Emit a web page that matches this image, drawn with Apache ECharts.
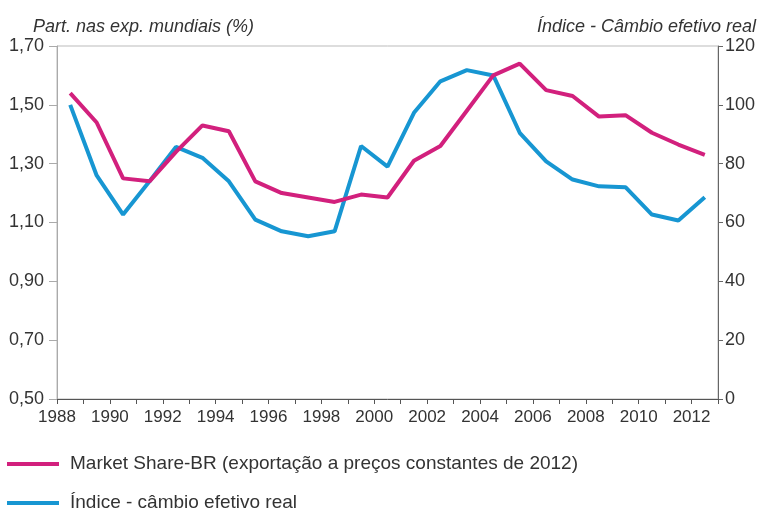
<!DOCTYPE html>
<html>
<head>
<meta charset="utf-8">
<script src="https://cdn.jsdelivr.net/npm/echarts@6/dist/echarts.min.js"></script>
<style>
  html, body { margin: 0; padding: 0; background: #fff; }
  #chart { width: 763px; height: 511px; }
</style>
</head>
<body>
<div id="chart"></div>
<script>
const years = [1988, 1989, 1990, 1991, 1992, 1993, 1994, 1995, 1996, 1997, 1998, 1999,
  2000, 2001, 2002, 2003, 2004, 2005, 2006, 2007, 2008, 2009, 2010, 2011, 2012];

// Part. nas exp. mundiais (%) - eixo esquerdo
const marketShare = [1.54, 1.44, 1.25, 1.24, 1.34, 1.43, 1.41, 1.24, 1.20, 1.185, 1.17, 1.195,
  1.185, 1.31, 1.36, 1.48, 1.60, 1.64, 1.55, 1.53, 1.46, 1.465, 1.405, 1.365, 1.33];

// Índice - câmbio efetivo real - eixo direito
const cambio = [100, 76, 62.7, 74, 85.7, 82, 74, 61, 57, 55.3, 57, 86,
  79, 97.3, 108, 111.8, 110, 90.5, 80.8, 74.6, 72.3, 72, 62.7, 60.7, 68.6];

const seriesNames = [
  "Market Share-BR (exportação a preços constantes de 2012)",
  "Índice - câmbio efetivo real",
];

const COLORS = {
  magenta: "#d2207d",
  blue: "#1796d2",
  text: "#333333",
  axisLight: "#aaaaaa",
  axisDark: "#555555",
};

const FONT = "Liberation Sans, Arial, sans-serif";

// pontos anuais ficam no meio do ano
const toPoints = (values) => values.map((v, i) => [years[i] + 0.5, v]);

function legendRow(name, top) {
  return {
    orient: "vertical",
    left: 2, top,
    icon: "rect",
    itemWidth: 52, itemHeight: 4,
    textStyle: { fontSize: 19, color: COLORS.text, lineHeight: 22, padding: [0, 0, 0, 6] },
    data: [name],
  };
}

const chart = echarts.init(document.getElementById("chart"));
chart.setOption({
  animation: false,
  textStyle: { fontFamily: FONT },
  title: [
    {
      text: "Part. nas exp. mundiais (%)",
      left: 28, top: 13,
      textStyle: { fontSize: 18, fontStyle: "italic", fontWeight: "normal", color: COLORS.text },
    },
    {
      text: "Índice - Câmbio efetivo real",
      right: 2, top: 13,
      textStyle: { fontSize: 18, fontStyle: "italic", fontWeight: "normal", color: COLORS.text },
    },
  ],
  grid: {
    left: 57, right: 45, top: 46, bottom: 112,
    show: true, borderColor: "#bbbbbb", borderWidth: 1,
  },
  legend: [legendRow(seriesNames[0], 448), legendRow(seriesNames[1], 487)],
  xAxis: {
    type: "value",
    min: 1988, max: 2013, interval: 1,
    splitLine: { show: false },
    axisLine: { lineStyle: { color: COLORS.axisDark } },
    axisTick: { length: 5, lineStyle: { color: COLORS.axisDark } },
    axisLabel: {
      fontSize: 17, color: COLORS.text, margin: 10,
      formatter: (v) => (v % 2 === 0 && v <= 2012 ? String(v) : ""),
    },
  },
  yAxis: [
    {
      type: "value",
      position: "left",
      min: 0.5, max: 1.7, interval: 0.2,
      splitLine: { show: false },
      axisLine: { show: true, lineStyle: { color: COLORS.axisLight } },
      axisTick: { show: true, length: 8, lineStyle: { color: COLORS.axisLight } },
      axisLabel: {
        fontSize: 18, color: COLORS.text, margin: 13,
        formatter: (v) => v.toFixed(2).replace(".", ","),
      },
    },
    {
      type: "value",
      position: "right",
      min: 0, max: 120, interval: 20,
      splitLine: { show: false },
      axisLine: { show: true, lineStyle: { color: "#666666" } },
      axisTick: { show: true, length: 5, lineStyle: { color: "#666666" } },
      axisLabel: { fontSize: 18, color: COLORS.text, margin: 7 },
    },
  ],
  series: [
    {
      name: seriesNames[0],
      type: "line",
      yAxisIndex: 0,
      data: toPoints(marketShare),
      showSymbol: false,
      color: COLORS.magenta,
      lineStyle: { width: 4, color: COLORS.magenta },
      z: 3,
    },
    {
      name: seriesNames[1],
      type: "line",
      yAxisIndex: 1,
      data: toPoints(cambio),
      showSymbol: false,
      color: COLORS.blue,
      lineStyle: { width: 4, color: COLORS.blue },
      z: 2,
    },
  ],
});
</script>
</body>
</html>
